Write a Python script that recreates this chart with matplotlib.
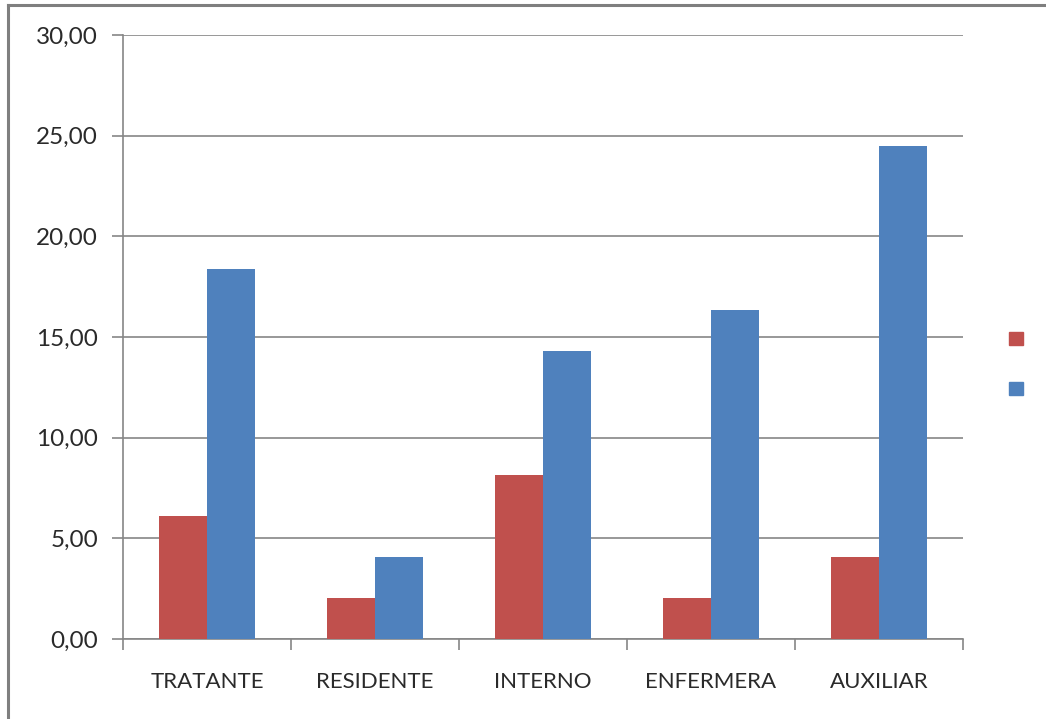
import matplotlib.pyplot as plt
import numpy as np
from matplotlib.lines import Line2D
from matplotlib.patches import Patch

cargos = ['TRATANTE', 'RESIDENTE', 'INTERNO', 'ENFERMERA', 'AUXILIAR']
serie_roja = [6.12, 2.04, 8.16, 2.04, 4.08]
serie_azul = [18.37, 4.08, 14.29, 16.33, 24.49]
yticks = [0, 5, 10, 15, 20, 25, 30]

rojo = '#C0504D'
azul = '#4F81BD'
gris = '#868686'

plt.rcParams['font.family'] = ['Lato', 'DejaVu Sans']

fig = plt.figure(figsize=(10.46, 7.19), dpi=100)
ax = fig.add_axes([123/1046, 80/719, 840/1046, 604/719])

x = np.arange(len(cargos))
w = 0.286
ax.bar(x - w/2, serie_roja, w, color=rojo, zorder=3)
ax.bar(x + w/2, serie_azul, w, color=azul, zorder=3)

ax.set_xlim(-0.5, len(cargos) - 0.5)
ax.set_ylim(0, 30)
ax.set_yticks(yticks)
ax.set_yticklabels([f'{v:.2f}'.replace('.', ',') for v in yticks])
ax.yaxis.grid(True, color=gris, lw=1.2, zorder=0)

# category labels centred, ticks between categories
ax.set_xticks(x)
ax.set_xticklabels(cargos)
ax.tick_params(axis='x', length=0, pad=24, labelsize=16, labelcolor='#2a2a2a')
ax.set_xticks(np.arange(len(cargos) + 1) - 0.5, minor=True)
ax.tick_params(axis='x', which='minor', length=8, width=1.2, color=gris, direction='out')
ax.tick_params(axis='y', length=8, width=1.2, color=gris, pad=10, labelsize=17.5, labelcolor='#2a2a2a')

for s in ['top', 'right']:
    ax.spines[s].set_visible(False)
for s in ['left', 'bottom']:
    ax.spines[s].set_color(gris)
    ax.spines[s].set_linewidth(1.2)

ax.legend(handles=[Patch(color=rojo), Patch(color=azul)], labels=['', ''],
          loc='center left', bbox_to_anchor=(1000/1046, 1 - 365/719),
          bbox_transform=fig.transFigure, frameon=False, fontsize=13,
          handlelength=0.75, handleheight=0.75, labelspacing=1.9,
          handletextpad=0, borderpad=0)

# frame around the chart area (top and left edges)
fig.add_artist(Line2D([8/1046, 8/1046], [0, 1 - 5/719], color='#7f7f7f', lw=2.2))
fig.add_artist(Line2D([8/1046, 1], [1 - 5/719, 1 - 5/719], color='#7f7f7f', lw=2.2))

fig.savefig('out.png', dpi=100)
